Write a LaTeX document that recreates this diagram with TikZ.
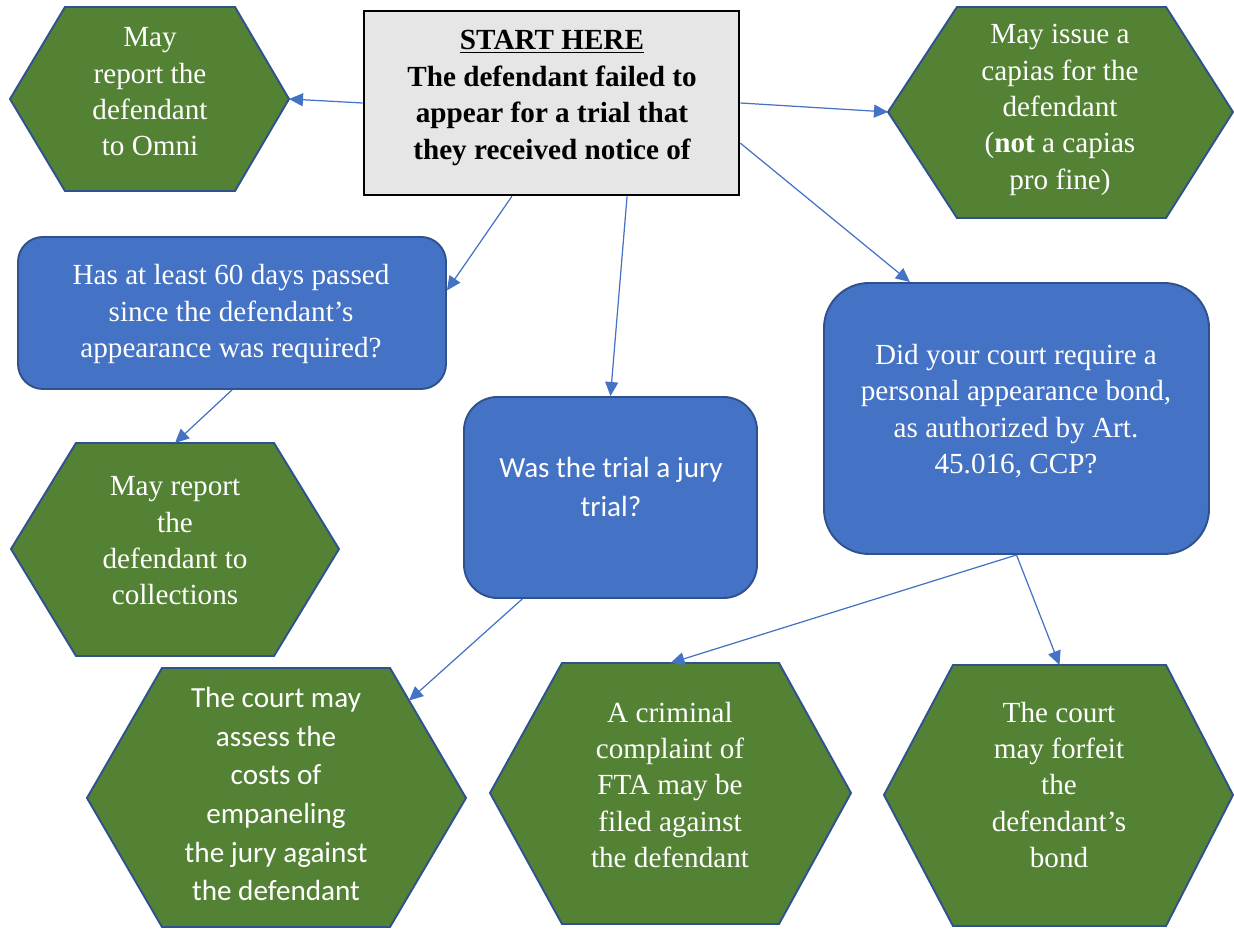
\documentclass[tikz,border=0pt]{standalone}
\usepackage{fontspec}
\setmainfont{Liberation Serif}
\newfontfamily\timesfont{Liberation Serif}
\newfontfamily\calibrifont{Carlito}
\usetikzlibrary{arrows.meta}
\definecolor{qblue}{HTML}{4472C4}
\definecolor{qedge}{HTML}{2F528F}
\definecolor{hgreen}{HTML}{548235}
\definecolor{sgray}{HTML}{E7E6E6}
\begin{document}
\begin{tikzpicture}[>={Triangle[length=0.28cm,width=0.26cm]},
	hexa/.style={draw=qedge, line width=1.1pt, fill=hgreen},
	qbox/.style={draw=qedge, line width=1.1pt, fill=qblue},
	txt/.style={text=white, align=center, inner sep=0pt, font=\timesfont\fontsize{16.6}{20.7}\selectfont},
	ctxt/.style={txt, font=\calibrifont\fontsize{16.6}{22}\selectfont},
	link/.style={->, draw=qblue, line width=0.7pt}]
	\useasboundingbox (0,0) rectangle (24.68,18.56);
	\draw [hexa] (0.20,16.58) -- (1.30,18.42) -- (4.70,18.42) -- (5.78,16.58) coordinate (omni-e) -- (4.70,14.74) -- (1.30,14.74) -- cycle;
	\draw [hexa] (17.76,16.32) coordinate (cap-w) -- (19.14,18.42) -- (23.32,18.42) -- (24.66,16.32) -- (23.32,14.20) -- (19.14,14.20) -- cycle;
	\draw [hexa] (0.22,7.58) -- (1.52,9.70) -- coordinate (coll-n) (5.48,9.70) -- (6.78,7.58) -- (5.48,5.44) -- (1.52,5.44) -- cycle;
	\draw [hexa] (1.74,2.60) -- (3.24,5.20) -- (7.80,5.20) -- coordinate [pos=0.25] (assess-in) (9.32,2.60) -- (7.80,0.02) -- (3.24,0.02) -- cycle;
	\draw [hexa] (9.80,2.70) -- (11.24,5.30) -- coordinate (crim-n) (15.58,5.30) -- (17.02,2.70) -- (15.58,0.08) -- (11.24,0.08) -- cycle;
	\draw [hexa] (17.68,2.66) -- (19.06,5.26) -- coordinate (forf-n) (23.32,5.26) -- (24.66,2.66) -- (23.32,0.04) -- (19.06,0.04) -- cycle;
	\node [draw, line width=1.5pt, fill=sgray, minimum width=7.5cm, minimum height=3.68cm] (start) at (11.03,16.50) {};
	\node [qbox, rounded corners=0.5cm, minimum width=8.56cm, minimum height=3.04cm] (days) at (4.64,12.30) {};
	\node [qbox, rounded corners=0.67cm, minimum width=5.86cm, minimum height=4.02cm] (jury) at (12.21,8.61) {};
	\node [qbox, rounded corners=0.9cm, minimum width=7.70cm, minimum height=5.42cm] (court) at (20.33,10.19) {};
	\node [txt, text=black, font=\timesfont\bfseries\fontsize{16.6}{20.7}\selectfont] (start-t) at (11.04,16.60) {\underline{START HERE}\\The defendant failed to\\appear for a trial that\\they received notice of};
	\node [txt] (omni-t) at (3.00,16.72) {May\\report the\\defendant\\to Omni};
	\node [txt] (cap-t) at (21.20,16.36) {May issue a\\capias for the\\defendant\\(\textbf{not} a capias\\pro fine)};
	\node [txt] (days-t) at (4.62,12.28) {Has at least 60 days passed\\since the defendant’s\\appearance was required?};
	\node [ctxt] (jury-t) at (12.22,8.82) {Was the trial a jury\\trial?};
	\node [txt] (court-t) at (20.32,10.34) {Did your court require a\\personal appearance bond,\\as authorized by Art.\\45.016, CCP?};
	\node [txt] (coll-t) at (3.50,7.74) {May report\\the\\defendant to\\collections};
	\node [ctxt] (assess-t) at (5.52,2.68) {The court may\\assess the\\costs of\\empaneling\\the jury against\\the defendant};
	\node [txt] (crim-t) at (13.40,2.86) {A criminal\\complaint of\\FTA may be\\filed against\\the defendant};
	\node [txt] (forf-t) at (21.18,2.86) {The court\\may forfeit\\the\\defendant’s\\bond};
	\draw [link] (start.west) -- (omni-e);
	\draw [link] (start.east) -- (cap-w);
	\draw [link] (start.-12) -- (court.128);
	\draw [link] (start.-113) -- (days.6);
	\draw [link] (start.-51) -- (jury.north);
	\draw [link] (days.south) -- (coll-n);
	\draw [link] (jury.-131) -- (assess-in);
	\draw [link] (court.south) -- (crim-n);
	\draw [link] (court.south) -- (forf-n);
\end{tikzpicture}
\end{document}
